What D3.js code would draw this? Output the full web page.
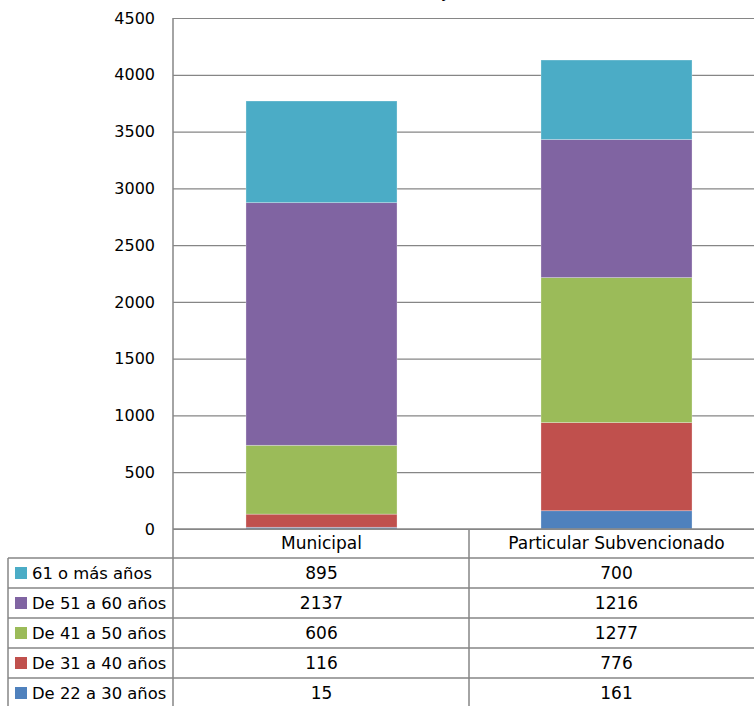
<!DOCTYPE html>
<html>
<head>
<meta charset="utf-8">
<script src="https://cdn.jsdelivr.net/npm/d3@7"></script>
<style>
  body { margin: 0; background: #fff; }
  svg { display: block; font-family: "DejaVu Sans", sans-serif; }
</style>
</head>
<body>
<svg id="chart" width="754" height="706"></svg>
<script>
// categories (columns) and age groups (stack order, bottom to top)
var categories = ["Municipal", "Particular Subvencionado"];
var ageGroups = ["De 22 a 30 años", "De 31 a 40 años", "De 41 a 50 años", "De 51 a 60 años", "61 o más años"];
var municipal = [15, 116, 606, 2137, 895];
var particular = [161, 776, 1277, 1216, 700];
var colors = ["#4F81BD", "#C0504D", "#9BBB59", "#8064A2", "#4BACC6"];
var yTicks = [0, 500, 1000, 1500, 2000, 2500, 3000, 3500, 4000, 4500];

var svg = d3.select("#chart");
var plotLeft = 173, plotTop = 18, plotBottom = 529, plotW = 590;
var rowH = 30, headerH = 29;

// build rows for d3.stack
var table = categories.map(function(c, i) {
    var row = {cat: c};
    var vals = i === 0 ? municipal : particular;
    ageGroups.forEach(function(g, j) { row[g] = vals[j]; });
    return row;
});
var stacked = d3.stack().keys(ageGroups)(table);

var x = d3.scaleBand()
    .domain(categories)
    .range([plotLeft + 1, plotLeft + 1 + plotW])
    .paddingInner(0.488)
    .paddingOuter(0.244);

var y = d3.scaleLinear()
    .domain([0, 4500])
    .range([plotBottom, plotTop]);

var color = d3.scaleOrdinal().domain(ageGroups).range(colors);

// cut-off title (only its descender shows at the top)
svg.append("text")
    .attr("x", 441).attr("y", -2)
    .style("font-size", "16px")
    .text("y");

// gridlines
svg.append("g")
    .selectAll("line")
    .data(yTicks)
    .enter().append("line")
    .attr("x1", plotLeft).attr("x2", 754)
    .attr("y1", function(d) { return y(d) + 0.5; })
    .attr("y2", function(d) { return y(d) + 0.5; })
    .style("stroke", "#868686")
    .style("stroke-width", 1.2);

// y axis labels
var yAxis = svg.append("g")
    .attr("transform", "translate(" + (plotLeft - 18) + ",0)")
    .call(d3.axisLeft(y).tickValues(yTicks).tickFormat(d3.format("d")).tickSize(0).tickPadding(0));
yAxis.select(".domain").remove();
yAxis.selectAll("text")
    .style("font-family", "DejaVu Sans, sans-serif")
    .style("font-size", "16px")
    .style("fill", "#000");

// bars
svg.append("g")
    .selectAll("g")
    .data(stacked)
    .enter().append("g")
    .style("fill", function(d) { return color(d.key); })
    .selectAll("rect")
    .data(function(d) { return d; })
    .enter().append("rect")
    .attr("x", function(d) { return x(d.data.cat); })
    .attr("y", function(d) { return y(d[1]); })
    .attr("width", x.bandwidth())
    .attr("height", function(d) { return y(d[0]) - y(d[1]); })
    .style("stroke", "rgba(255,255,255,0.35)")
    .style("stroke-width", 0.8);

// data table under the chart
var tableRows = ageGroups.slice().reverse();
var tableTop = plotBottom + headerH;
var lines = svg.append("g").style("stroke", "#868686").style("stroke-width", 1.5);

// horizontal lines
lines.append("line").attr("x1", plotLeft).attr("x2", 754).attr("y1", plotBottom).attr("y2", plotBottom);
tableRows.forEach(function(g, i) {
    var yy = tableTop + i * rowH;
    lines.append("line").attr("x1", 8).attr("x2", 754).attr("y1", yy).attr("y2", yy);
});
// vertical lines
lines.append("line").attr("x1", plotLeft).attr("x2", plotLeft).attr("y1", plotTop).attr("y2", 706);
lines.append("line").attr("x1", 8).attr("x2", 8).attr("y1", tableTop).attr("y2", 706);
lines.append("line")
    .attr("x1", x.step() + plotLeft + 1).attr("x2", x.step() + plotLeft + 1)
    .attr("y1", plotBottom).attr("y2", 706);

// header labels
svg.append("g")
    .selectAll("text")
    .data(categories)
    .enter().append("text")
    .attr("x", function(d) { return x(d) + x.bandwidth() / 2; })
    .attr("y", plotBottom + headerH / 2)
    .attr("dy", "0.35em")
    .attr("text-anchor", "middle")
    .style("font-size", "17px")
    .text(function(d) { return d; });

// row labels with legend keys
var rows = svg.append("g")
    .selectAll("g")
    .data(tableRows)
    .enter().append("g")
    .attr("transform", function(d, i) { return "translate(0," + (tableTop + i * rowH) + ")"; });

rows.append("rect")
    .attr("x", 15).attr("y", rowH / 2 - 6)
    .attr("width", 12).attr("height", 12)
    .style("fill", function(d) { return color(d); });

rows.append("text")
    .attr("x", 32).attr("y", rowH / 2)
    .attr("dy", "0.35em")
    .style("font-size", "16.4px")
    .text(function(d) { return d; });

rows.selectAll("text.val")
    .data(function(g) {
        var j = ageGroups.indexOf(g);
        return [{cat: categories[0], v: municipal[j]}, {cat: categories[1], v: particular[j]}];
    })
    .enter().append("text")
    .attr("class", "val")
    .attr("x", function(d) { return x(d.cat) + x.bandwidth() / 2; })
    .attr("y", rowH / 2)
    .attr("dy", "0.35em")
    .attr("text-anchor", "middle")
    .style("font-size", "17px")
    .text(function(d) { return d.v; });
</script>
</body>
</html>
